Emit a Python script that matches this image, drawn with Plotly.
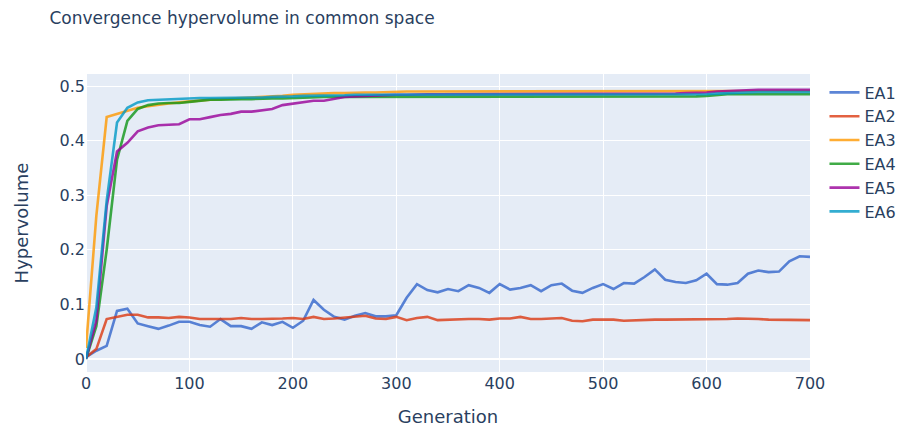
import plotly.graph_objects as go

# Generations sampled every 10 steps
generations = list(range(0, 701, 10))

ea1 = [0.003, 0.015, 0.024, 0.088, 0.092, 0.065, 0.060, 0.055, 0.061, 0.068,
       0.068, 0.062, 0.059, 0.073, 0.060, 0.060, 0.055, 0.067, 0.062, 0.068,
       0.057, 0.070, 0.108, 0.090, 0.077, 0.072, 0.079, 0.084, 0.078, 0.078,
       0.080, 0.112, 0.137, 0.126, 0.122, 0.128, 0.124, 0.135, 0.130, 0.121,
       0.137, 0.127, 0.130, 0.135, 0.124, 0.135, 0.138, 0.125, 0.121, 0.130,
       0.137, 0.128, 0.139, 0.138, 0.150, 0.164, 0.145, 0.141, 0.139, 0.144,
       0.156, 0.137, 0.136, 0.139, 0.156, 0.162, 0.159, 0.160, 0.179, 0.188,
       0.187]

ea2 = [0.003, 0.018, 0.073, 0.077, 0.081, 0.081, 0.076, 0.076, 0.075, 0.077,
       0.076, 0.073, 0.073, 0.074, 0.073, 0.075, 0.073, 0.073, 0.073, 0.074,
       0.075, 0.073, 0.077, 0.073, 0.074, 0.076, 0.077, 0.079, 0.074, 0.073,
       0.077, 0.071, 0.075, 0.077, 0.071, 0.072, 0.073, 0.073, 0.073, 0.072,
       0.074, 0.074, 0.077, 0.073, 0.073, 0.074, 0.075, 0.070, 0.069, 0.072,
       0.072, 0.072, 0.070, 0.071, 0.072, 0.072, 0.072, 0.072, 0.072, 0.073,
       0.073, 0.073, 0.073, 0.074, 0.074, 0.073, 0.072, 0.072, 0.072, 0.071,
       0.071]

ea3 = [0.020, 0.262, 0.443, 0.449, 0.454, 0.460, 0.463, 0.466, 0.468, 0.470,
       0.472, 0.474, 0.475, 0.476, 0.477, 0.477, 0.478, 0.479, 0.480, 0.482,
       0.484, 0.485, 0.486, 0.486, 0.487, 0.487, 0.488, 0.488, 0.488, 0.489,
       0.489, 0.490, 0.490, 0.490, 0.490, 0.490, 0.490, 0.490, 0.490, 0.490,
       0.490, 0.490, 0.490, 0.490, 0.490, 0.490, 0.491, 0.491, 0.491, 0.491,
       0.491, 0.491, 0.491, 0.491, 0.491, 0.491, 0.491, 0.491, 0.491, 0.491,
       0.491, 0.491, 0.491, 0.491, 0.491, 0.491, 0.491, 0.491, 0.491, 0.491,
       0.491]

ea4 = [0.000, 0.060, 0.200, 0.365, 0.436, 0.458, 0.465, 0.468, 0.469, 0.469,
       0.471, 0.473, 0.475, 0.475, 0.476, 0.476, 0.476, 0.477, 0.477, 0.477,
       0.478, 0.479, 0.479, 0.480, 0.480, 0.480, 0.480, 0.480, 0.480, 0.480,
       0.480, 0.480, 0.481, 0.481, 0.481, 0.481, 0.481, 0.481, 0.481, 0.481,
       0.481, 0.481, 0.481, 0.481, 0.481, 0.481, 0.481, 0.481, 0.481, 0.481,
       0.481, 0.481, 0.481, 0.481, 0.481, 0.481, 0.481, 0.481, 0.481, 0.481,
       0.482, 0.484, 0.485, 0.485, 0.485, 0.485, 0.485, 0.485, 0.485, 0.485,
       0.485]

ea5 = [0.000, 0.070, 0.280, 0.380, 0.396, 0.417, 0.424, 0.428, 0.429, 0.430,
       0.439, 0.439, 0.443, 0.447, 0.449, 0.453, 0.453, 0.455, 0.458, 0.465,
       0.468, 0.471, 0.473, 0.473, 0.476, 0.480, 0.481, 0.482, 0.483, 0.484,
       0.484, 0.484, 0.485, 0.485, 0.485, 0.485, 0.485, 0.485, 0.485, 0.485,
       0.485, 0.485, 0.485, 0.486, 0.486, 0.486, 0.486, 0.486, 0.486, 0.486,
       0.486, 0.486, 0.486, 0.486, 0.486, 0.486, 0.486, 0.486, 0.487, 0.487,
       0.488, 0.490, 0.491, 0.492, 0.493, 0.493, 0.493, 0.493, 0.493, 0.493,
       0.493]

ea6 = [0.000, 0.094, 0.290, 0.433, 0.460, 0.470, 0.474, 0.475, 0.476, 0.476,
       0.477, 0.478, 0.478, 0.478, 0.479, 0.479, 0.479, 0.479, 0.480, 0.480,
       0.481, 0.482, 0.482, 0.482, 0.483, 0.483, 0.484, 0.484, 0.484, 0.484,
       0.484, 0.484, 0.484, 0.484, 0.484, 0.484, 0.484, 0.484, 0.484, 0.484,
       0.484, 0.485, 0.485, 0.485, 0.485, 0.485, 0.485, 0.485, 0.485, 0.485,
       0.485, 0.485, 0.485, 0.485, 0.485, 0.485, 0.485, 0.485, 0.485, 0.485,
       0.485, 0.486, 0.487, 0.488, 0.489, 0.489, 0.489, 0.489, 0.489, 0.489,
       0.489]

series_names = ["EA1", "EA2", "EA3", "EA4", "EA5", "EA6"]
series_values = [ea1, ea2, ea3, ea4, ea5, ea6]
colors = ["#3366CC", "#DC3912", "#FF9900", "#109618", "#990099", "#0099C6"]

fig = go.Figure()
for name, vals, col in zip(series_names, series_values, colors):
    fig.add_trace(go.Scatter(
        x=generations, y=vals, mode="lines", name=name,
        line=dict(color=col, width=2.6), opacity=0.8,
    ))

fig.update_layout(
    width=899, height=428,
    template="plotly",
    font=dict(family="DejaVu Sans, Verdana, sans-serif", color="#2a3f5f",
              size=16),
    title=dict(text="Convergence hypervolume in common space",
               x=0.055, xanchor="left", y=0.957, yanchor="middle",
               font=dict(size=17)),
    margin=dict(l=86, r=89, t=74, b=56, autoexpand=False),
    xaxis=dict(title=dict(text="Generation", font=dict(size=18), standoff=18),
               range=[0, 700], dtick=100, tickfont=dict(size=16),
               automargin=False),
    yaxis=dict(title=dict(text="Hypervolume", font=dict(size=18), standoff=26),
               range=[-0.024, 0.522], dtick=0.1, tickfont=dict(size=16),
               automargin=False),
    legend=dict(font=dict(size=16), x=1.02, xanchor="left", y=0.995,
                yanchor="top"),
)

fig.write_html("out.html")
